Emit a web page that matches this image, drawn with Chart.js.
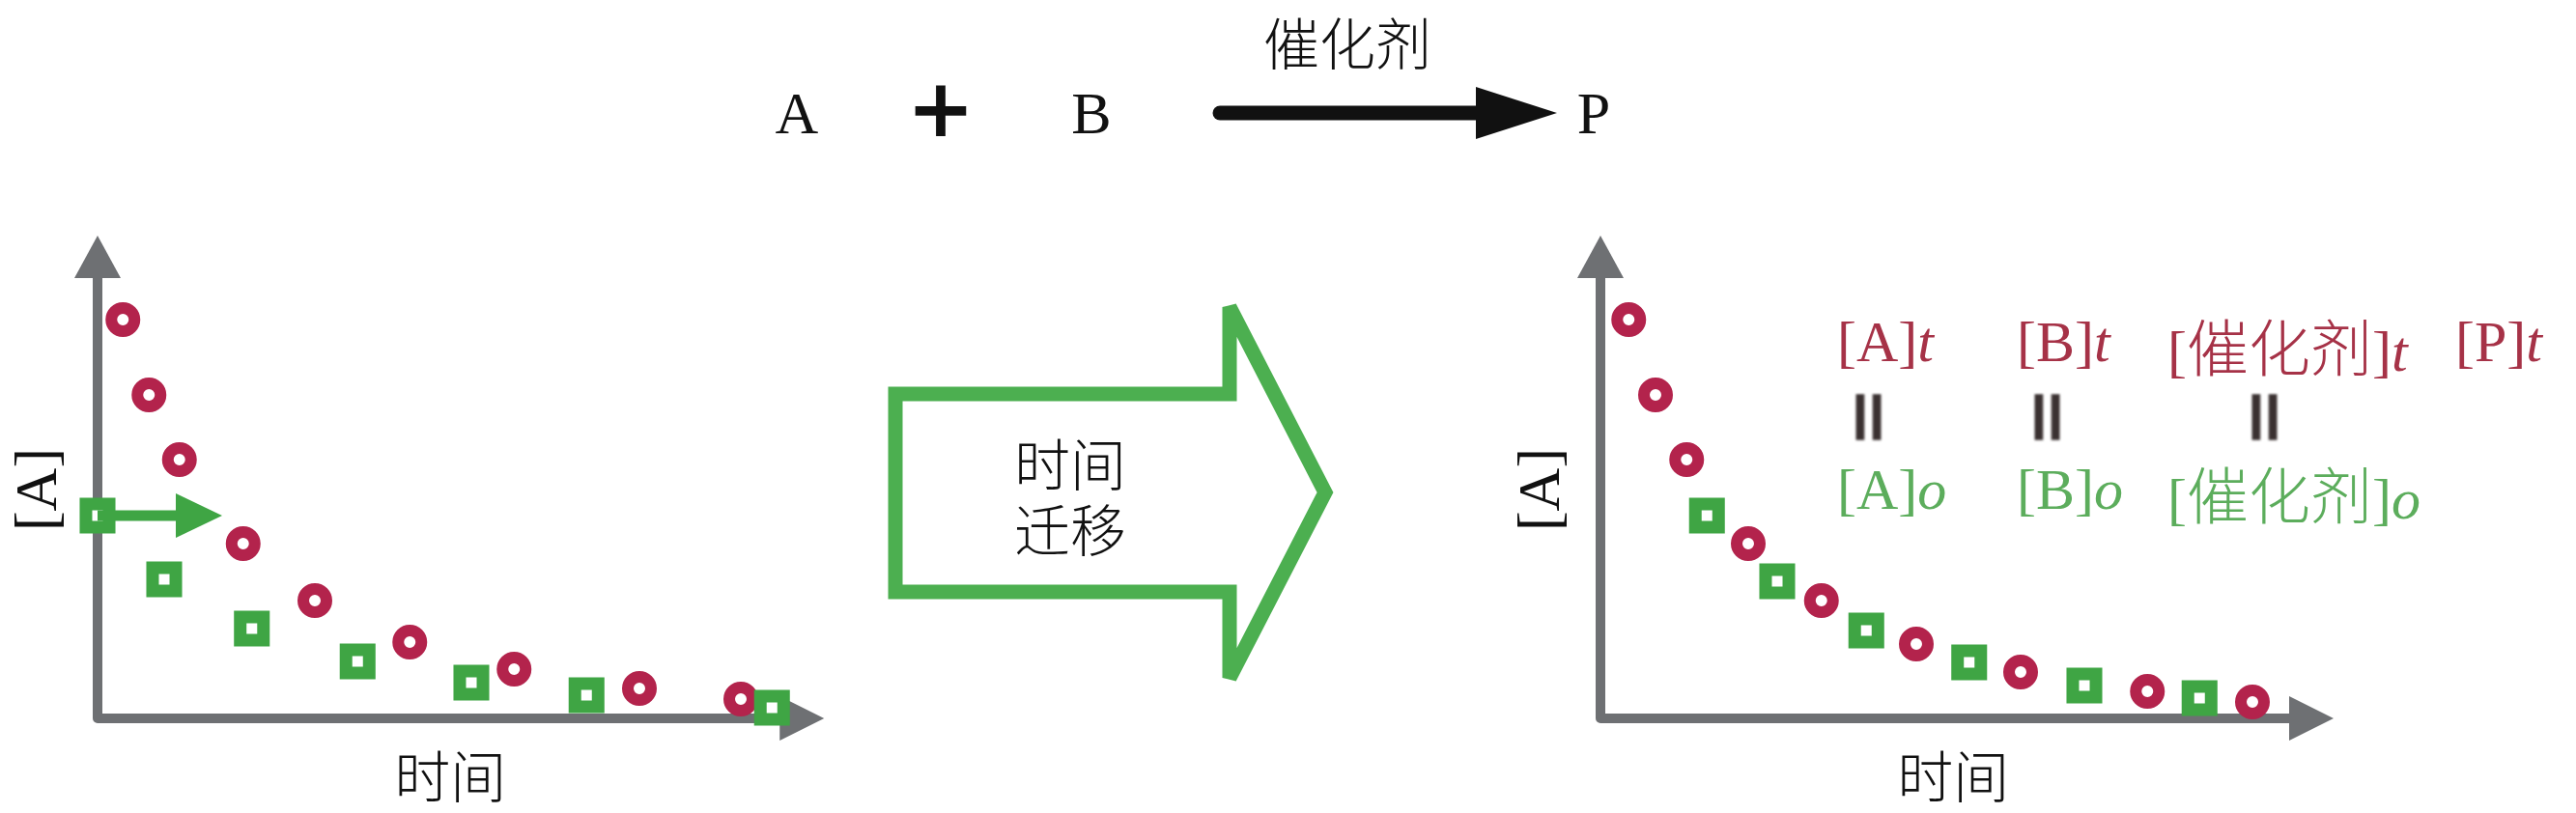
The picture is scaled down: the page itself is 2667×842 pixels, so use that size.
<!DOCTYPE html>
<html lang="zh">
<head>
<meta charset="utf-8">
<title>催化剂 时间迁移</title>
<script src="https://cdn.jsdelivr.net/npm/chart.js@4.4.1/dist/chart.umd.min.js"></script>
<style>
  html, body { margin: 0; padding: 0; background: #fff; }
  #page { position: relative; width: 2667px; height: 842px; overflow: hidden;
          font-family: "Liberation Serif", "Noto Sans CJK SC", serif; color: #111; }
  .t { position: absolute; white-space: nowrap; line-height: 1; transform: translate(-50%, -50%); }
  .row { position: absolute; white-space: nowrap; line-height: 1; font-size: 60px; }
  .cjk { font-family: "Noto Sans CJK SC", sans-serif; font-weight: 300; }
  .row .cjk { font-size: 64px; }
  .red { color: #a63247; }
  .green { color: #5cad5c; }
  .eq { position: absolute; line-height: 1; font: bold 76px "DejaVu Sans"; color: #3a3131;
        transform: translate(-50%, -50%) rotate(90deg); filter: blur(1px); }
  canvas { position: absolute; }
</style>
</head>
<body>
<div id="page">
  <!-- reaction line -->
  <div class="t" style="left:825px; top:117px; font-size:62px;">A</div>
  <div class="t" style="left:974px; top:112px; font:bold 84px 'DejaVu Sans';">+</div>
  <div class="t" style="left:1130px; top:117px; font-size:62px;">B</div>
  <div class="t cjk" style="left:1395px; top:42px; font-size:58px;">催化剂</div>
  <div class="t" style="left:1650px; top:117px; font-size:62px;">P</div>

  <svg width="2667" height="842" style="position:absolute; left:0; top:0;">
    <line x1="1263" y1="117" x2="1545" y2="117" stroke="#111" stroke-width="15" stroke-linecap="round"/>
    <polygon points="1528,90 1612,117 1528,144" fill="#111"/>
    <polygon points="927,408 1273,408 1273,318 1372,510 1273,702 1273,613 927,613"
             fill="none" stroke="#4caf50" stroke-width="15" stroke-linejoin="miter"/>
  </svg>
  <div class="t cjk" style="left:1108px; top:478px; font-size:58px;">时间</div>
  <div class="t cjk" style="left:1108px; top:546px; font-size:58px;">迁移</div>

  <!-- right panel labels -->
  <div class="row red" style="left:1902px; top:324px;">[A]<i>t</i></div>
  <div class="row red" style="left:2088px; top:324px;">[B]<i>t</i></div>
  <div class="row red" style="left:2244px; top:324px;">[<span class="cjk">催化剂</span>]<i>t</i></div>
  <div class="row red" style="left:2542px; top:324px;">[P]<i>t</i></div>
  <div class="eq" style="left:1937px; top:432px;">=</div>
  <div class="eq" style="left:2122px; top:432px;">=</div>
  <div class="eq" style="left:2347px; top:432px;">=</div>
  <div class="row green" style="left:1902px; top:477px;">[A]<i>o</i></div>
  <div class="row green" style="left:2088px; top:477px;">[B]<i>o</i></div>
  <div class="row green" style="left:2244px; top:477px;">[<span class="cjk">催化剂</span>]<i>o</i></div>

  <canvas id="left" width="900" height="642" style="left:0; top:200px; width:900px; height:642px;"></canvas>
  <canvas id="right" width="900" height="642" style="left:1560px; top:200px; width:900px; height:642px;"></canvas>
</div>

<script>
// time (x) and [A] (y) on a 0-100 scale
const redTimeL   = [3.5, 7.1, 11.3, 20.1, 30.0, 43.1, 57.5, 74.8, 88.8];
const redConcL   = [82.6, 67.0, 53.6, 36.2, 24.4, 15.8, 10.2, 6.2, 4.0];
const greenTimeL = [0, 9.2, 21.3, 35.9, 51.6, 67.5, 93.1];
const greenConcL = [42.0, 28.8, 18.6, 11.8, 7.4, 4.8, 2.2];

const redTimeR   = [3.9, 7.6, 11.9, 20.4, 30.5, 43.6, 58.0, 75.5, 90.0];
const redConcR   = [82.6, 67.0, 53.6, 36.2, 24.4, 15.4, 9.6, 5.6, 3.4];
const greenTimeR = [14.7, 24.4, 36.7, 50.9, 66.8, 82.7];
const greenConcR = [42.0, 28.4, 18.2, 11.6, 6.8, 4.2];

const shiftArrow = [0, 17.2];   // time shift arrow on the left panel
const xTitle = '时间';
const yTitle = '[A]';

const RED = '#b3234c';
const GREEN = '#3fa544';
const AXIS = '#6e7073';

function pts(xs, ys) {
  return xs.map((v, i) => ({ x: v, y: ys[i] }));
}

const panelDecor = {
  id: 'panelDecor',
  beforeDatasetsDraw(chart, args, opts) {
    const { ctx, scales: { x, y } } = chart;
    const x0 = x.getPixelForValue(0), y0 = y.getPixelForValue(0);
    const xTip = x.getPixelForValue(opts.xEnd), yTip = y.getPixelForValue(100);
    ctx.save();
    ctx.strokeStyle = AXIS;
    ctx.fillStyle = AXIS;
    ctx.lineWidth = 10;
    ctx.lineJoin = 'round';
    ctx.beginPath();
    ctx.moveTo(x0, yTip + 40);
    ctx.lineTo(x0, y0);
    ctx.lineTo(xTip - 40, y0);
    ctx.stroke();
    ctx.beginPath();
    ctx.moveTo(x0, yTip);
    ctx.lineTo(x0 - 24, yTip + 44);
    ctx.lineTo(x0 + 24, yTip + 44);
    ctx.closePath();
    ctx.fill();
    ctx.beginPath();
    ctx.moveTo(xTip, y0);
    ctx.lineTo(xTip - 46, y0 - 23);
    ctx.lineTo(xTip - 46, y0 + 23);
    ctx.closePath();
    ctx.fill();

    ctx.fillStyle = '#111';
    ctx.textAlign = 'center';
    ctx.textBaseline = 'middle';
    ctx.font = '300 58px "Noto Sans CJK SC"';
    ctx.fillText(xTitle, x.getPixelForValue(48.7), y0 + 60);
    ctx.translate(x0 - 59, (y.top + y.bottom) / 2 + 13);
    ctx.rotate(-Math.PI / 2);
    ctx.font = '62px "Liberation Serif"';
    ctx.fillText(yTitle, 0, 0);
    ctx.restore();
  },
  afterDatasetsDraw(chart, args, opts) {
    if (!opts.shift) return;
    const { ctx, scales: { x, y } } = chart;
    const yy = y.getPixelForValue(opts.shiftY);
    const xa = x.getPixelForValue(opts.shift[0]);
    const xb = x.getPixelForValue(opts.shift[1]);
    ctx.save();
    ctx.strokeStyle = GREEN;
    ctx.fillStyle = GREEN;
    ctx.lineWidth = 11;
    ctx.beginPath();
    ctx.moveTo(xa, yy);
    ctx.lineTo(xb - 40, yy);
    ctx.stroke();
    ctx.beginPath();
    ctx.moveTo(xb, yy);
    ctx.lineTo(xb - 48, yy - 23);
    ctx.lineTo(xb - 48, yy + 23);
    ctx.closePath();
    ctx.fill();
    ctx.restore();
  }
};

function makePanel(id, redT, redC, greenT, greenC, pad, decor) {
  return new Chart(document.getElementById(id), {
    type: 'scatter',
    data: {
      datasets: [
        {
          data: pts(greenT, greenC),
          pointStyle: 'rect',
          pointRadius: 17,
          borderWidth: 13,
          borderColor: GREEN,
          backgroundColor: '#ffffff'
        },
        {
          data: pts(redT, redC),
          pointStyle: 'circle',
          pointRadius: 12,
          borderWidth: 12,
          borderColor: RED,
          backgroundColor: '#ffffff'
        }
      ]
    },
    options: {
      responsive: false,
      animation: false,
      events: [],
      clip: false,
      layout: { padding: pad },
      scales: {
        x: { type: 'linear', min: 0, max: 100, display: false },
        y: { type: 'linear', min: 0, max: 100, display: false }
      },
      plugins: {
        legend: { display: false },
        tooltip: { enabled: false },
        panelDecor: decor
      }
    },
    plugins: [panelDecor]
  });
}

makePanel('left', redTimeL, redConcL, greenTimeL, greenConcL,
  { left: 101, right: 49, top: 44, bottom: 98 },
  { xEnd: 100.3, shift: shiftArrow, shiftY: greenConcL[0] });

makePanel('right', redTimeR, redConcR, greenTimeR, greenConcR,
  { left: 97, right: 53, top: 44, bottom: 98 },
  { xEnd: 101.2 });
</script>
</body>
</html>
